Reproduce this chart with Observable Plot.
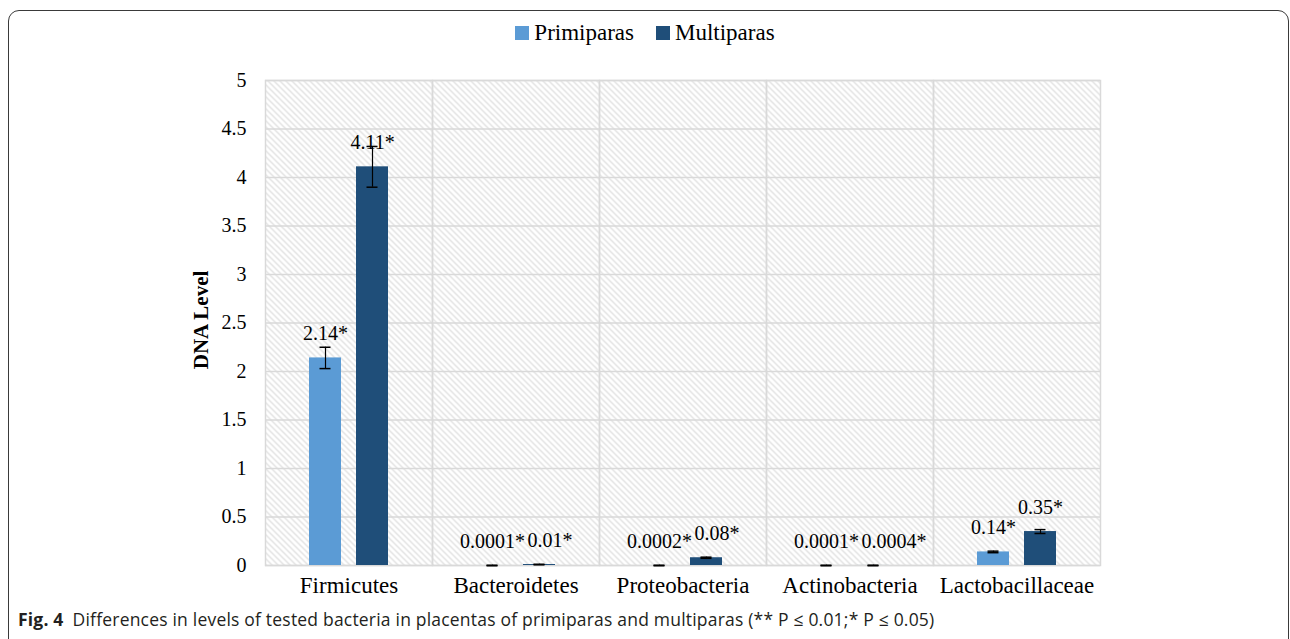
<!DOCTYPE html>
<html>
<head>
<meta charset="utf-8">
<script src="https://cdn.jsdelivr.net/npm/d3@7"></script>
<script src="https://cdn.jsdelivr.net/npm/@observablehq/plot@0.6"></script>
<style>
  html, body { margin: 0; padding: 0; background: #fff; }
  #wrap { position: relative; width: 1290px; height: 639px; overflow: hidden; }
  #border { position: absolute; left: 8px; top: 10px; width: 1281px; height: 640px; box-sizing: border-box;
            border: 1.5px solid #3a3a3a; border-radius: 11px; }
  #legend { position: absolute; top: 20px; left: 0; width: 1290px; text-align: center;
            font-family: "Liberation Serif", serif; font-size: 23px; color: #000; }
  #legend span.item { display: inline-block; margin: 0 11px; }
  #legend span.sw { display: inline-block; width: 14px; height: 14px; margin-right: 5px; vertical-align: 0px; }
  #ylabel { position: absolute; left: 201px; top: 320px; transform: translate(-50%, -50%) rotate(-90deg);
            font-family: "Liberation Serif", serif; font-weight: bold; font-size: 21px; white-space: nowrap; }
  #chart { position: absolute; left: 0; top: 0; }
  #caption { position: absolute; left: 18px; top: 607px; font-family: "Open Sans", sans-serif; font-size: 17.5px;
             color: #231f20; white-space: nowrap; letter-spacing: 0.2px; }
  #caption b { font-weight: bold; margin-right: 9px; }
</style>
</head>
<body>
<div id="wrap">
  <div id="border"></div>
  <div id="chart"></div>
  <div id="legend"></div>
  <div id="ylabel">DNA Level</div>
  <div id="caption"><b>Fig. 4</b>Differences in levels of tested bacteria in placentas of primiparas and multiparas (** P ≤ 0.01;* P ≤ 0.05)</div>
</div>
<script>
const categories = ["Firmicutes", "Bacteroidetes", "Proteobacteria", "Actinobacteria", "Lactobacillaceae"];
const groups = ["Primiparas", "Multiparas"];
const colors = ["#5b9bd5", "#1f4e79"];
const primiparas = [2.14, 0.0001, 0.0002, 0.0001, 0.14];
const multiparas = [4.11, 0.01, 0.08, 0.0004, 0.35];
const primiparasErr = [0.11, 0.003, 0.003, 0.003, 0.008];
const multiparasErr = [0.21, 0.003, 0.006, 0.003, 0.02];
const primiparasLabels = ["2.14*", "0.0001*", "0.0002*", "0.0001*", "0.14*"];
const multiparasLabels = ["4.11*", "0.01*", "0.08*", "0.0004*", "0.35*"];
const yTicks = [0, 0.5, 1, 1.5, 2, 2.5, 3, 3.5, 4, 4.5, 5];

const rows = [];
categories.forEach((c, i) => {
  // a multiparas label is pushed aside when both bars of the category are nearly zero
  const crowded = primiparas[i] < 0.1 && multiparas[i] < 0.1;
  rows.push({cat: c, group: groups[0], value: primiparas[i], err: primiparasErr[i], label: primiparasLabels[i], crowded});
  rows.push({cat: c, group: groups[1], value: multiparas[i], err: multiparasErr[i], label: multiparasLabels[i], crowded});
});
const centeredLabels = rows.filter(d => !(d.crowded && d.group === groups[1]));
const shiftedLabels = rows.filter(d => d.crowded && d.group === groups[1]);

// legend
const legend = document.getElementById("legend");
groups.forEach((g, i) => {
  const item = document.createElement("span");
  item.className = "item";
  item.innerHTML = `<span class="sw" style="background:${colors[i]}"></span>${g}`;
  legend.appendChild(item);
});

const chart = Plot.plot({
  width: 1290,
  height: 620,
  marginLeft: 264,
  marginRight: 190,
  marginTop: 80,
  marginBottom: 55,
  style: {fontFamily: "Liberation Serif, serif", fontSize: "20px", color: "#000", background: "transparent", overflow: "visible"},
  fx: {domain: categories, padding: 0, label: null, axis: null},
  x: {domain: groups, paddingInner: 0.3125, paddingOuter: 0.917, axis: null},
  y: {domain: [0, 5], ticks: yTicks, tickSize: 0, tickPadding: 19, tickFormat: d => String(d), label: null},
  color: {domain: groups, range: colors},
  marks: [
    Plot.frame({fill: "url(#hatch)", stroke: "none"}),
    Plot.ruleY(yTicks, {stroke: "#d9d9d9", strokeWidth: 1.5}),
    Plot.frame({stroke: "#d9d9d9", strokeWidth: 1.5}),
    Plot.barY(rows, {fx: "cat", x: "group", y: "value", fill: "group"}),
    Plot.ruleX(rows, {fx: "cat", x: "group", y1: d => d.value - d.err, y2: d => d.value + d.err, stroke: "#000", strokeWidth: 1.2}),
    Plot.tickY(rows, {fx: "cat", x: "group", y: d => d.value - d.err, stroke: "#000", strokeWidth: 1.5, insetLeft: 10.5, insetRight: 10.5}),
    Plot.tickY(rows, {fx: "cat", x: "group", y: d => d.value + d.err, stroke: "#000", strokeWidth: 1.5, insetLeft: 10.5, insetRight: 10.5}),
    Plot.text(centeredLabels, {fx: "cat", x: "group", y: "value", text: "label", dy: -24, fontSize: 20, fill: "#000"}),
    Plot.text(shiftedLabels, {fx: "cat", x: "group", y: "value", text: "label", dy: -24, dx: -12, textAnchor: "start", fontSize: 20, fill: "#000"}),
    Plot.text(categories, {fx: d => d, frameAnchor: "bottom", text: d => d, dy: 27, fontSize: 23, fill: "#000"})
  ]
});

// hatch pattern definition
const ns = "http://www.w3.org/2000/svg";
const defs = document.createElementNS(ns, "defs");
defs.innerHTML = `<pattern id="hatch" patternUnits="userSpaceOnUse" width="6" height="6">
  <rect width="6" height="6" fill="#ffffff"/>
  <path d="M-1,-1 L7,7 M-1,5 L1,7 M5,-1 L7,1" stroke="#d9d9d9" stroke-width="1.2"/>
</pattern>`;
chart.insertBefore(defs, chart.firstChild);
document.getElementById("chart").appendChild(chart);
</script>
</body>
</html>
